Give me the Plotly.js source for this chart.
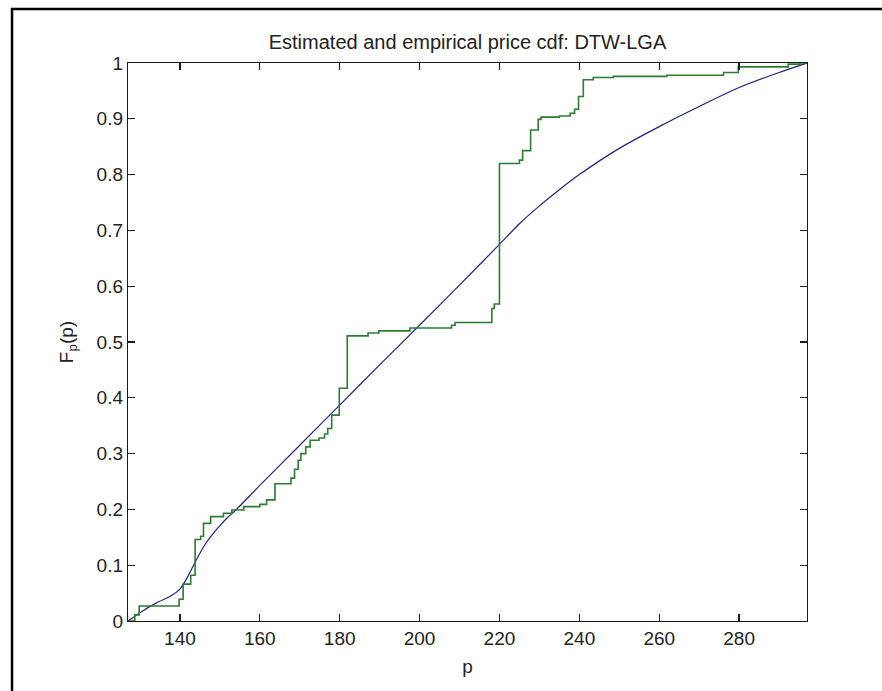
<!DOCTYPE html>
<html>
<head>
<meta charset="utf-8">
<script src="https://cdn.plot.ly/plotly-3.0.1.min.js"></script>
<style>
  html, body { margin: 0; padding: 0; background: #ffffff; }
  #chart { width: 882px; height: 691px; }
</style>
</head>
<body>
<div id="chart"></div>
<script>
// Estimated (smooth) cdf
const estPrice = [127, 130, 134, 138, 140, 142, 144, 146, 148, 150, 152, 154, 160, 170, 180, 190, 200, 210, 220, 225, 230, 235, 240, 250, 260, 270, 280, 290, 297];
const estCdf   = [0, 0.015, 0.032, 0.046, 0.057, 0.080, 0.108, 0.134, 0.154, 0.171, 0.186, 0.199, 0.243, 0.315, 0.387, 0.459, 0.530, 0.602, 0.675, 0.712, 0.744, 0.773, 0.800, 0.847, 0.886, 0.922, 0.956, 0.983, 1.0];

// Empirical (step) cdf
const empPrice = [127.3, 128.7, 129.8, 139.8, 140.8, 142.7, 143.8, 145.2, 145.9, 147.7, 150.9, 153.0, 156.0, 160.0, 161.7, 163.8, 167.8, 168.7, 169.6, 170.3, 171.5, 172.6, 174.8, 176.2, 177.0, 178.0, 179.9, 181.9, 187.1, 189.8, 197.6, 208.0, 208.9, 218.1, 218.7, 220.0, 225.0, 225.8, 227.8, 229.7, 230.4, 235.0, 237.7, 238.8, 239.8, 241.0, 243.5, 248.5, 261.9, 276.1, 279.8, 292.3, 295.3, 297];
const empCdf   = [0, 0.011, 0.027, 0.039, 0.066, 0.082, 0.146, 0.152, 0.175, 0.187, 0.193, 0.199, 0.205, 0.209, 0.217, 0.246, 0.256, 0.272, 0.288, 0.300, 0.312, 0.324, 0.328, 0.335, 0.345, 0.369, 0.417, 0.511, 0.516, 0.520, 0.525, 0.530, 0.535, 0.560, 0.568, 0.820, 0.826, 0.843, 0.880, 0.899, 0.903, 0.905, 0.910, 0.917, 0.940, 0.970, 0.974, 0.976, 0.978, 0.983, 0.993, 0.998, 1.0, 1.0];

const xTicks = [140, 160, 180, 200, 220, 240, 260, 280];
const yTicks = [0, 0.1, 0.2, 0.3, 0.4, 0.5, 0.6, 0.7, 0.8, 0.9, 1];
const yTickText = ['0', '0.1', '0.2', '0.3', '0.4', '0.5', '0.6', '0.7', '0.8', '0.9', '1'];

const FONT = 'Liberation Sans, Arial, sans-serif';

const traces = [
  {
    x: estPrice, y: estCdf, type: 'scatter', mode: 'lines',
    line: { color: '#22227e', width: 1.2, shape: 'spline', smoothing: 0.8 },
    hoverinfo: 'skip', showlegend: false
  },
  {
    x: empPrice, y: empCdf, type: 'scatter', mode: 'lines',
    line: { color: '#2f7a35', width: 1.6, shape: 'hv' },
    hoverinfo: 'skip', showlegend: false
  }
];

const axisCommon = {
  showgrid: false, zeroline: false,
  showline: true, linecolor: '#1a1a1a', linewidth: 1.2,
  mirror: 'ticks', ticks: 'inside', ticklen: 7, tickwidth: 1.2, tickcolor: '#1a1a1a',
  tickfont: { family: FONT, size: 19, color: '#222' }
};

const layout = {
  width: 882, height: 691,
  margin: { l: 128, r: 75, t: 63, b: 70 },
  paper_bgcolor: '#ffffff', plot_bgcolor: '#ffffff',
  title: {
    text: 'Estimated and empirical price cdf: DTW-LGA',
    font: { family: FONT, size: 20, color: '#222' },
    x: 0.5, xref: 'paper', xanchor: 'center',
    y: 1, yref: 'paper', yanchor: 'bottom', pad: { b: 14 }
  },
  xaxis: Object.assign({}, axisCommon, {
    range: [127, 297], tickmode: 'array', tickvals: xTicks,
    title: { text: 'p', font: { family: FONT, size: 19, color: '#222' }, standoff: 11 }
  }),
  yaxis: Object.assign({}, axisCommon, {
    range: [0, 1], tickmode: 'array', tickvals: yTicks, ticktext: yTickText,
    title: { text: 'F<sub>p</sub>(p)', font: { family: FONT, size: 19, color: '#222' }, standoff: 18 }
  }),
  shapes: [
    {
      type: 'path', xref: 'paper', yref: 'paper',
      path: 'M -0.1708,-0.3 L -0.1708,1.0968 L 1.3,1.0968',
      line: { color: '#000000', width: 2.5 }
    }
  ]
};

Plotly.newPlot('chart', traces, layout, { displayModeBar: false, staticPlot: true });
</script>
</body>
</html>
